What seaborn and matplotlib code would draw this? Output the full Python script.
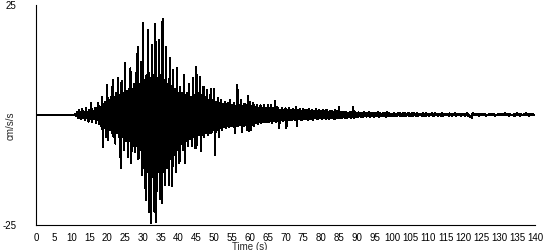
import numpy as np
import pandas as pd
import matplotlib
matplotlib.use("Agg")
import matplotlib.pyplot as plt
import seaborn as sns

# Peak values, one pair per 0.5 s bin (0 .. 139.5 s)
bin_width = 0.5
peak_pos = [
    0.1, 0.1, 0.1, 0.1, 0.1, 0.1, 0.1, 0.1, 0.1, 0.1,        # 0-5
    0.1, 0.1, 0.1, 0.1, 0.1, 0.1, 0.1, 0.1, 0.1, 0.1,        # 5-10
    0.1, 0.1, 0.2, 0.8, 1.2, 0.6, 1.4, 0.7, 1.6, 0.8,        # 10-15
    1.2, 2.7, 1.0, 1.6, 1.5, 2.7, 1.8, 4.0, 2.5, 3.0,        # 15-20
    6.8, 3.5, 4.0, 8.0, 4.0, 5.0, 8.4, 4.5, 7.8, 5.0,        # 20-25
    11.8, 5.5, 6.0, 10.6, 6.0, 7.0, 9.5, 15.5, 7.0, 12.0,    # 25-30
    21.0, 8.0, 9.0, 19.3, 8.5, 16.0, 9.0, 20.8, 8.5, 17.0,   # 30-35
    9.0, 21.8, 8.0, 15.5, 7.0, 12.9, 6.5, 10.2, 6.0, 10.6,   # 35-40
    5.0, 6.4, 5.0, 9.0, 4.5, 5.0, 7.0, 4.0, 8.4, 4.5,        # 40-45
    11.0, 5.0, 8.7, 4.5, 6.4, 4.0, 5.8, 3.5, 6.0, 3.5,       # 45-50
    6.0, 3.0, 3.8, 2.8, 3.5, 2.5, 3.0, 2.5, 2.8, 3.4,        # 50-55
    2.2, 2.7, 2.0, 6.8, 2.3, 3.4, 2.0, 2.5, 2.2, 4.3,        # 55-60
    3.0, 2.0, 2.7, 1.8, 2.3, 1.6, 2.2, 1.5, 2.3, 1.6,        # 60-65
    2.2, 1.5, 2.3, 1.6, 3.2, 1.8, 1.5, 1.2, 1.6, 1.2,        # 65-70
    1.5, 1.2, 1.6, 1.1, 1.4, 1.2, 1.8, 1.1, 1.4, 1.0,        # 70-75
    1.4, 1.1, 1.2, 1.3, 1.0, 1.2, 1.0, 1.3, 0.9, 1.1,        # 75-80
    1.0, 1.1, 0.9, 1.2, 0.8, 1.0, 0.9, 0.8, 1.1, 0.9,        # 80-85
    1.8, 0.7, 0.8, 0.6, 0.7, 0.5, 0.8, 0.6, 1.8, 0.7,        # 85-90
    0.5, 0.6, 0.4, 0.5, 0.7, 0.4, 0.5, 0.6, 0.4, 0.5,        # 90-95
    0.4, 0.5, 0.6, 0.4, 0.3, 0.5, 0.4, 0.6, 0.4, 0.3,        # 95-100
    0.3, 0.5, 0.3, 0.4, 0.5, 0.3, 0.4, 0.4, 0.3, 0.5,        # 100-105
    0.3, 0.4, 0.5, 0.3, 0.4, 0.3, 0.2, 0.4, 0.3, 0.4,        # 105-110
    0.3, 0.2, 0.4, 0.3, 0.5, 0.3, 0.2, 0.3, 0.4, 0.3,        # 110-115
    0.2, 0.3, 0.4, 0.2, 0.3, 0.5, 0.3, 0.2, 0.3, 0.2,        # 115-120
    0.3, 0.2, 0.4, 0.1, -0.2, 0.5, 0.3, 0.2, 0.3, 0.2,       # 120-125
    0.2, 0.3, 0.2, 0.1, 0.2, 0.2, 0.3, 0.2, 0.1, 0.2,        # 125-130
    0.2, 0.3, 0.2, 0.4, 0.3, 0.2, 0.2, 0.1, 0.2, 0.3,        # 130-135
    0.4, 0.2, 0.2, 0.1, 0.3, 0.4, 0.2, 0.2, 0.3, 0.2,        # 135-140
]
peak_neg = [
    -0.1, -0.1, -0.1, -0.1, -0.1, -0.1, -0.1, -0.1, -0.1, -0.1,
    -0.1, -0.1, -0.1, -0.1, -0.1, -0.1, -0.1, -0.1, -0.1, -0.1,
    -0.1, -0.1, -0.2, -0.8, -0.6, -1.0, -0.7, -1.2, -0.8, -1.5,
    -1.0, -1.6, -1.0, -1.8, -1.2, -2.0, -2.5, -7.3, -3.0, -5.0,
    -5.7, -3.5, -4.0, -5.0, -6.5, -4.0, -5.0, -12.0, -5.0, -8.0,
    -6.0, -9.5, -6.0, -11.0, -7.0, -8.4, -7.0, -10.0, -8.0, -13.6,
    -12.0, -19.3, -13.0, -22.0, -24.6, -14.0, -22.0, -24.3, -13.0, -19.0,
    -20.0, -13.0, -16.0, -12.0, -16.0, -10.0, -16.2, -9.0, -13.0, -8.0,
    -11.0, -6.5, -8.0, -11.0, -6.0, -7.0, -5.5, -7.0, -5.0, -7.6,
    -6.8, -4.5, -8.3, -4.5, -5.0, -4.0, -4.5, -4.0, -4.0, -3.5,
    -9.1, -3.5, -5.0, -3.0, -3.4, -2.8, -3.0, -2.5, -2.8, -2.5,
    -2.5, -4.2, -2.5, -2.5, -2.2, -3.8, -2.5, -2.2, -3.4, -3.6,
    -3.4, -2.2, -2.5, -1.8, -2.0, -1.6, -1.8, -1.5, -1.6, -1.5,
    -1.6, -1.4, -1.8, -1.3, -1.6, -1.4, -3.0, -1.2, -1.4, -1.1,
    -3.0, -1.1, -1.2, -1.2, -1.0, -1.2, -2.4, -1.0, -1.1, -1.2,
    -1.0, -0.9, -1.2, -1.0, -0.9, -1.1, -0.8, -1.0, -0.9, -0.8,
    -0.9, -0.8, -1.0, -0.7, -0.9, -0.8, -0.7, -0.9, -0.7, -0.8,
    -0.6, -0.7, -0.5, -0.8, -0.6, -0.5, -0.7, -0.4, -0.6, -0.5,
    -0.4, -0.3, -0.5, -0.4, -0.3, -0.4, -0.3, -0.5, -0.3, -0.4,
    -0.3, -0.2, -0.4, -0.3, -0.2, -0.3, -0.4, -0.2, -0.3, -0.2,
    -0.3, -0.2, -0.3, -0.1, -0.3, -0.2, -0.3, -0.2, -0.1, -0.3,
    -0.2, -0.3, -0.1, -0.2, -0.3, -0.1, -0.2, -0.2, -0.3, -0.1,
    -0.2, -0.1, -0.2, -0.3, -0.1, -0.2, -0.1, -0.3, -0.2, -0.1,
    -0.1, -0.2, -0.1, -0.2, -0.1, -0.2, -0.1, -0.1, -0.2, -0.1,
    -0.2, -0.1, -0.2, -0.5, -0.7, -0.1, 0.0, -0.1, -0.2, -0.1,
    -0.1, -0.1, -0.2, -0.1, 0.0, -0.1, -0.1, -0.2, -0.1, -0.1,
    -0.1, -0.1, 0.0, -0.1, -0.1, -0.2, -0.1, -0.1, -0.2, -0.1,
    -0.1, -0.2, 0.0, -0.1, -0.1, -0.1, -0.2, 0.0, -0.1, -0.1,
]
x_ticks = list(range(0, 141, 5))
y_ticks = [-25, 25]
x_label = "Time (s)"
y_label = "cm/s/s"

# interleave peaks into one trace
times, vals = [], []
for i, (p, n) in enumerate(zip(peak_pos, peak_neg)):
    times += [i * bin_width, i * bin_width + bin_width / 2]
    vals += [p, n]
df = pd.DataFrame({"t": times, "a": vals})

sns.set_style("white")
plt.rcParams["font.family"] = ["Liberation Sans", "DejaVu Sans"]

fig = plt.figure(figsize=(5.5, 2.5), dpi=100)
ax = fig.add_axes([36 / 550, 0.1, (535 - 36) / 550, 0.88])
sns.lineplot(data=df, x="t", y="a", ax=ax, color="black", lw=0.75,
             sort=False, estimator=None, antialiased=False)

ax.set_xlim(0, 140)
ax.set_ylim(-25, 25)
ax.set_xticks(x_ticks)
ax.set_xticklabels([str(v) for v in x_ticks], fontsize=7)
ax.set_yticks(y_ticks)
ax.set_yticklabels([str(v) for v in y_ticks], fontsize=7)
for s in ["top", "right"]:
    ax.spines[s].set_visible(False)
for s in ["left", "bottom"]:
    ax.spines[s].set_color("black")
    ax.spines[s].set_linewidth(0.8)
ax.tick_params(axis="x", direction="out", length=4, width=0.8, pad=1.5, colors="black")
ax.tick_params(axis="y", direction="out", length=4, width=0.8, pad=10, colors="black")
ax.yaxis.get_major_ticks()[1].tick1line.set_visible(False)

ax.set_xlabel(x_label, fontsize=7, labelpad=0)
ax.xaxis.set_label_coords((250 - 36) / 499, -0.075)
ax.set_ylabel(y_label, fontsize=7, labelpad=0)
ax.yaxis.set_label_coords(-0.04, 0.45)

fig.savefig("out.png", dpi=100)
